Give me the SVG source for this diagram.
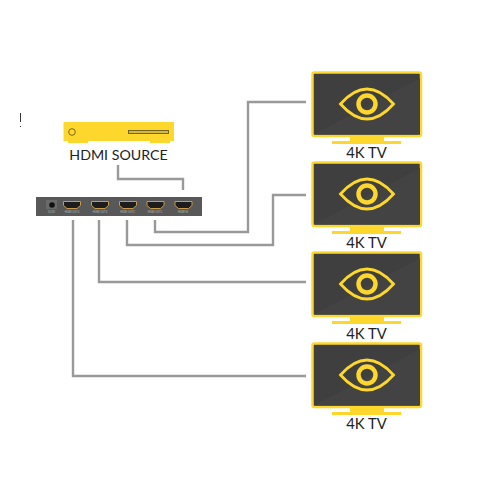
<svg xmlns="http://www.w3.org/2000/svg" width="500" height="500" viewBox="0 0 500 500">
<style>
.conn{fill:none;stroke:#999;stroke-width:2.4}
.lbl{font-family:"Lato","Liberation Sans",sans-serif;fill:#222;text-anchor:middle}
.y{fill:#fdd72b}
.port{fill:#1d1d1d;stroke:#c89a4a;stroke-width:1}
.tiny{font-family:"Liberation Sans",sans-serif;font-size:2.6px;fill:#bbb;text-anchor:middle}
</style>
<defs>
<g id="tv">
<rect x="312.500" y="72.500" width="108.500" height="63.500" rx="2" fill="#3f3f3f" stroke="#fdd72b" stroke-width="2.500"/>
<polygon points="314,134.500 420,78 420,134.500" fill="#434343"/>
<rect class="y" x="350" y="136" width="34" height="5"/>
<rect class="y" x="332" y="141" width="69" height="3"/>
<path d="M340.500,104 Q367,74 393.500,104 Q367,134 340.500,104 Z" fill="none" stroke="#fdd72b" stroke-width="2.800"/>
<circle cx="367" cy="104" r="8.500" fill="none" stroke="#fdd72b" stroke-width="4.500"/>
</g>
<path id="hdmi" d="M0,0 H17 V4 L13.500,7 H3.500 L0,4 Z" class="port"/>
</defs>
<g id="connectors">
<path class="conn" d="M118,165 V179 H183 V190"/>
<path class="conn" d="M155,220 V232 H248 V102 H306"/>
<path class="conn" d="M127,220 V245 H273 V195 H306"/>
<path class="conn" d="M99,220 V282 H306"/>
<path class="conn" d="M73,220 V376 H306"/>
</g>
<g id="mark"><path d="M20.500,113 V122 M20.500,126 V127" stroke="#333" stroke-width="1" fill="none"/></g>
<g id="source">
<rect class="y" x="63.500" y="122" width="110.500" height="19"/>
<rect class="y" x="68" y="141" width="20" height="2"/>
<rect class="y" x="150" y="141" width="20" height="2"/>
<circle cx="72" cy="132" r="3.300" fill="none" stroke="#6b5a20" stroke-width="0.900"/>
<rect x="128.500" y="130.500" width="40" height="3" fill="#d8b83a" stroke="#6b5a20" stroke-width="0.900"/>
<text class="lbl" x="118.500" y="160" font-size="14.200">HDMI SOURCE</text>
</g>
<g id="switch">
<rect x="36" y="197" width="166" height="19" fill="#585858"/>
<rect x="46" y="200" width="11" height="9" fill="#6a6a6a"/>
<circle cx="52" cy="205" r="2.800" fill="#111"/>
<use href="#hdmi" x="63.500" y="201.500"/>
<use href="#hdmi" x="91.500" y="201.500"/>
<use href="#hdmi" x="119.500" y="201.500"/>
<use href="#hdmi" x="147" y="201.500"/>
<use href="#hdmi" x="175" y="201.500"/>
<text class="tiny" x="51.500" y="213">DC5V</text>
<text class="tiny" x="72" y="213">HDMI OUT4</text>
<text class="tiny" x="100" y="213">HDMI OUT3</text>
<text class="tiny" x="127.500" y="213">HDMI OUT2</text>
<text class="tiny" x="155" y="213">HDMI OUT1</text>
<text class="tiny" x="183" y="213">HDMI IN</text>
</g>
<g id="tv1"><use href="#tv"/><text class="lbl" x="366.500" y="157.500" font-size="14.800">4K TV</text></g>
<g id="tv2"><use href="#tv" y="90"/><text class="lbl" x="366.500" y="248" font-size="14.800">4K TV</text></g>
<g id="tv3"><use href="#tv" y="180"/><text class="lbl" x="366.500" y="338.500" font-size="14.800">4K TV</text></g>
<g id="tv4"><use href="#tv" y="271"/><text class="lbl" x="366.500" y="428.500" font-size="14.800">4K TV</text></g>
</svg>
